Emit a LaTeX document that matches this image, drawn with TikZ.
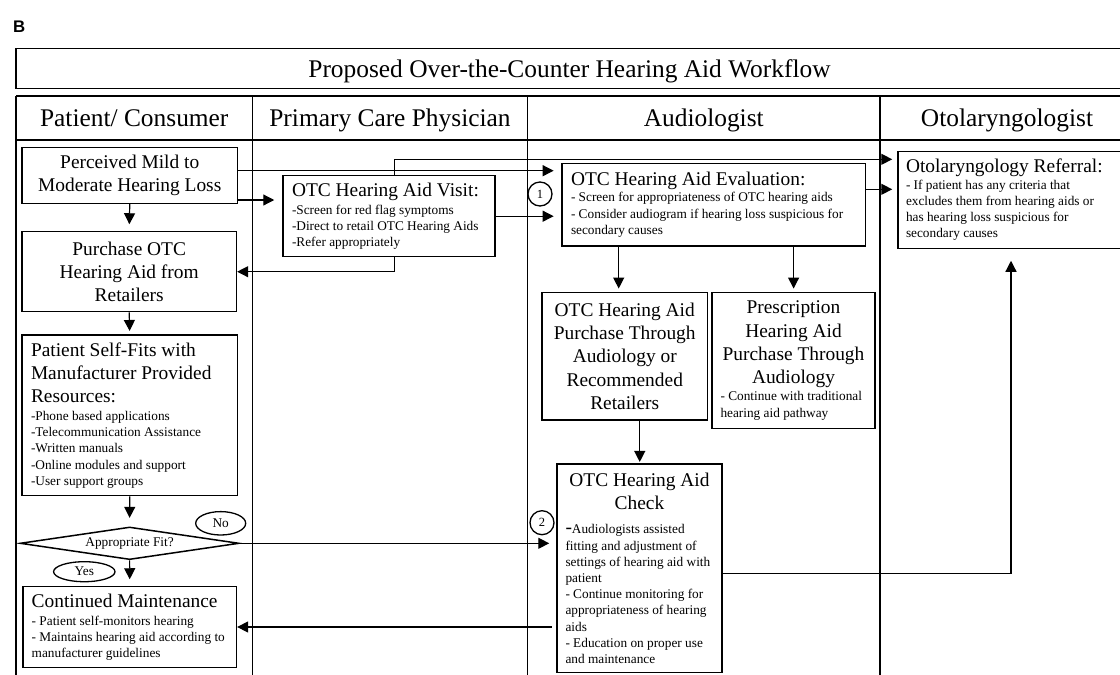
\documentclass[tikz,border=0pt]{standalone}
\usepackage{fontspec}
\setmainfont{Liberation Serif}
\newfontfamily\labelfont{Liberation Sans}
\usetikzlibrary{arrows.meta,shapes.geometric,calc}
\newcommand{\medf}{\fontsize{19.4pt}{23.3pt}\selectfont}
\newcommand{\smlf}{\fontsize{13.3pt}{16.2pt}\selectfont}
\newcommand{\hdrf}{\fontsize{25.4pt}{30pt}\selectfont}
\newcommand{\numf}{\fontsize{12.5pt}{14pt}\selectfont}
\newcommand{\labf}{\labelfont\bfseries\fontsize{16.8pt}{20pt}\selectfont}
\newcommand{\natsp}{\spaceskip=0pt\xspaceskip=0pt\relax}
\begin{document}
\begin{tikzpicture}[x=1pt,y=-1pt,
  box/.style={draw, line width=1.5pt, inner xsep=9pt, inner ysep=0pt, font=\medf},
  arr/.style={-{Triangle[length=11pt,width=11pt]}, line width=1.2pt},
  tline/.style={line width=1.6pt},
  hdr/.style={font=\hdrf, anchor=base, inner sep=0pt},
  tag/.style={draw, ellipse, line width=1.3pt, inner sep=0pt, font=\smlf},
  num/.style={draw, circle, line width=1.3pt, inner sep=0pt, font=\numf}
]
\clip (0,0) rectangle (1120,675);
\fill[white] (0,0) rectangle (1120,675);
\node[font=\labf, anchor=base west, inner sep=0pt] (lab) at (13,32) {B};
% table frame
\draw[tline] (16,48.3) rectangle (1134,88.3);
\node[hdr] (title) at (569.5,77) {Proposed Over-the-Counter Hearing Aid Workflow};
\draw[tline] (16,95.7) -- (1134,95.7);
\draw[line width=2.6pt] (16,140) -- (1134,140);
\foreach \x in {16,252.5,527.5,880} \draw[tline] (\x,95.7) -- (\x,676);
\node[hdr] (h1) at (134.25,126) {Patient/ Consumer};
\node[hdr] (h2) at (390,126) {Primary Care Physician};
\node[hdr] (h3) at (703.75,126) {Audiologist};
\node[hdr] (h4) at (1007,126) {Otolaryngologist};
% patient column
\node[box, text width=197.5pt, minimum height=56pt] (perc) at (129.75,175.3)
  {\natsp\centering Perceived Mild to\\Moderate Hearing Loss\par};
\node[box, text width=196.4pt, minimum height=80pt] (purch) at (129.2,271.7)
  {\natsp\centering Purchase OTC\\Hearing Aid from\\Retailers\par};
\node[box, text width=197.5pt, minimum height=160.7pt] (self) at (129.75,415.35)
  {\natsp\raggedright Patient Self-Fits with\\Manufacturer Provided\\Resources:\par\vspace{1.7pt}%
   {\smlf -Phone based applications\\-Telecommunication Assistance\\-Written manuals\\-Online modules and support\\-User support groups\par}};
\node[draw, diamond, shape aspect=6.7, line width=1.5pt, inner sep=0pt, minimum width=219pt, minimum height=32.6pt, font=\smlf] (fit) at (129.6,543.3)
  {Appropriate Fit?};
\node[tag, minimum width=50pt, minimum height=23.4pt] (no) at (220.7,523.3) {No};
\node[tag, minimum width=61.4pt, minimum height=20pt] (yes) at (84.3,571.7) {Yes};
\node[box, inner xsep=8.5pt, text width=196.2pt, minimum height=80.6pt] (maint) at (129.8,627)
  {\natsp\raggedright Continued Maintenance\par\vspace{1.7pt}%
   {\smlf - Patient self-monitors hearing\\- Maintains hearing aid according to\\manufacturer guidelines\par}};
% primary care column
\node[box, text width=194pt, minimum height=81pt] (visit) at (389,216.2)
  {\natsp\raggedright OTC Hearing Aid Visit:\par\vspace{1.7pt}%
   {\smlf -Screen for red flag symptoms\\-Direct to retail OTC Hearing Aids\\-Refer appropriately\par}};
% audiologist column
\node[box, text width=285.6pt, minimum height=82.7pt] (eval) at (713.8,204.65)
  {\natsp\raggedright OTC Hearing Aid Evaluation:\par
   {\smlf - Screen for appropriateness of OTC hearing aids\\- Consider audiogram if hearing loss suspicious for\\secondary causes\par}};
\node[box, text width=147.5pt, minimum height=127.3pt] (otcp) at (624.75,356.35)
  {\natsp\centering OTC Hearing Aid\\Purchase Through\\Audiology or\\Recommended\\Retailers\par};
\node[box, inner xsep=8.5pt, text width=146pt, minimum height=135.6pt] (presc) at (793.5,360.5)
  {\natsp\raggedright{\centering Prescription\\Hearing Aid\\Purchase Through\\Audiology\par}\vspace{0.8pt}%
   {\smlf - Continue with traditional\\hearing aid pathway\par}};
\node[box, inner xsep=8.5pt, text width=148pt, minimum height=208.7pt] (check) at (639.5,568.35)
  {\natsp\raggedright{\centering OTC Hearing Aid\\Check\par}\vspace{7.8pt}%
   {\smlf {\medf -}Audiologists assisted\\fitting and adjustment of\\settings of hearing aid with\\patient\\- Continue monitoring for\\appropriateness of hearing\\aids\\- Education on proper use\\and maintenance\par}};
\node[num, minimum size=24pt] (n1) at (540,194) {1};
\node[num, minimum size=24pt] (n2) at (542,522.7) {2};
% otolaryngologist column
\node[box, inner xsep=8pt, text width=226pt, minimum height=96.6pt] (oto) at (1019,200)
  {\natsp\raggedright Otolaryngology Referral:\par
   {\smlf - If patient has any criteria that\\excludes them from hearing aids or\\has hearing loss suspicious for\\secondary causes\par}};
% connectors
\coordinate (pA) at ([yshift=4.6pt]perc.east);
\draw[arr, shorten >=7.6pt] (pA) -- (pA -| eval.west);
\coordinate (pB) at ([yshift=-24.7pt]perc.east);
\draw[arr, shorten >=8pt] (pB) -- (pB -| visit.west);
\draw[arr, shorten >=6.7pt] (perc.south) -- (purch.north);
\draw[arr, shorten >=3.3pt] (purch.south) -- (self.north);
\draw[arr, shorten >=8.4pt] (self.south) -- (fit.north);
\draw[arr, shorten >=6.7pt] (fit.south) -- (maint.north);
\draw[arr, shorten >=7pt] (fit.east) -- (fit.east -| check.west);
\coordinate (vT) at ([xshift=5.6pt]visit.north);
\coordinate (oA) at ([yshift=40.7pt]oto.west);
\draw[arr, shorten >=5pt] (vT) |- (oA);
\draw[arr, shorten >=7.6pt] (visit.east) -- (visit.east -| eval.west);
\coordinate (vB) at ([xshift=5.6pt]visit.south);
\draw[arr] (vB) |- (purch.east);
\coordinate (eR) at ([yshift=15.35pt]eval.east);
\draw[arr, shorten >=5pt] (eR) -- (eR -| oto.west);
\coordinate (eL) at ([xshift=-95.1pt]eval.south);
\draw[arr, shorten >=3.4pt] (eL) -- (eL |- otcp.north);
\coordinate (eM) at ([xshift=79.8pt]eval.south);
\draw[arr, shorten >=3.4pt] (eM) -- (eM |- presc.north);
\coordinate (oB) at ([xshift=15pt]otcp.south);
\draw[arr, shorten >=1.3pt] (oB) -- (oB |- check.north);
\coordinate (cA) at ([yshift=-4.95pt]check.east);
\coordinate (oC) at ([xshift=-8pt]oto.south);
\draw[arr, shorten >=11.7pt] (cA) -| (oC);
\coordinate (cB) at ([xshift=-4.5pt]check.west);
\draw[arr] (cB |- maint.east) -- (maint.east);
\end{tikzpicture}
\end{document}
